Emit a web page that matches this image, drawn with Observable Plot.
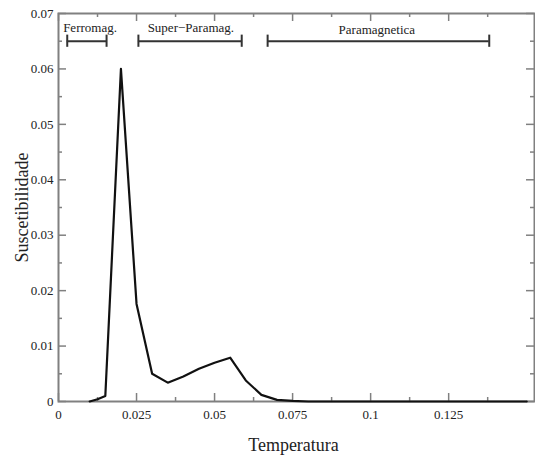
<!DOCTYPE html>
<html>
<head>
<meta charset="utf-8">
<script src="https://cdn.jsdelivr.net/npm/d3@7"></script>
<script src="https://cdn.jsdelivr.net/npm/@observablehq/plot@0.6"></script>
<style>
  html, body { margin: 0; padding: 0; background: #fff; }
  #chart svg, #chart svg text { font-family: "Liberation Serif", "DejaVu Serif", serif !important; }
</style>
</head>
<body>
<div id="chart"></div>
<script>
// Curve data
const temperatura = [0.01, 0.0125, 0.015, 0.02, 0.025, 0.03, 0.035, 0.04, 0.045, 0.05, 0.055, 0.06, 0.065, 0.07, 0.075, 0.08, 0.09, 0.1, 0.11, 0.12, 0.13, 0.14, 0.15];
const suscetibilidade = [0, 0.0004, 0.001, 0.060, 0.0176, 0.005, 0.0034, 0.0045, 0.0059, 0.0070, 0.0079, 0.0038, 0.0012, 0.0003, 0.0001, 0, 0, 0, 0, 0, 0, 0, 0];

// Phase ranges
const phaseNames = ["Ferromag.", "Super\u2212Paramag.", "Paramagnetica"];
const phaseStart = [0.0028, 0.0256, 0.0670];
const phaseEnd = [0.0154, 0.0587, 0.1380];
const phaseBarY = [0.0650, 0.0650, 0.0650];
const phaseLabelX = [0.0101, 0.0424, 0.1020];
const phaseLabelY = [0.0675, 0.0675, 0.0670];

// Ticks
const xTicks = [0, 0.025, 0.05, 0.075, 0.1, 0.125];
const xTickLabels = ["0", "0.025", "0.05", "0.075", "0.1", "0.125"];
const xMinorTicks = [0.0125, 0.0375, 0.0625, 0.0875, 0.1125, 0.1375];
const yTicks = [0, 0.01, 0.02, 0.03, 0.04, 0.05, 0.06, 0.07];
const yTickLabels = ["0", "0.01", "0.02", "0.03", "0.04", "0.05", "0.06", "0.07"];
const yMinorTicks = [0.005, 0.015, 0.025, 0.035, 0.045, 0.055, 0.065];

const xTitle = "Temperatura";
const yTitle = "Suscetibilidade";

const W = 535, H = 461, mL = 58, mR = 1, mT = 13, mB = 60;
const plotW = W - mL - mR, plotH = H - mT - mB;
const major = 8, minor = 4;
const axisColor = "#808080";
const serif = "Liberation Serif";

const curve = temperatura.map((t, i) => ({t, s: suscetibilidade[i]}));
const phases = phaseNames.map((name, i) => ({
  name, x1: phaseStart[i], x2: phaseEnd[i], y: phaseBarY[i], lx: phaseLabelX[i], ly: phaseLabelY[i]
}));
const caps = phases.flatMap(p => [{x: p.x1, y: p.y}, {x: p.x2, y: p.y}]);

const chart = Plot.plot({
  width: W,
  height: H,
  marginLeft: mL,
  marginRight: mR,
  marginTop: mT,
  marginBottom: mB,
  style: {fontFamily: serif, fontSize: "13px", color: "#222", background: "#fff"},
  x: {
    domain: [0, 0.1525],
    ticks: xTicks,
    tickFormat: d => xTickLabels[xTicks.indexOf(d)],
    tickSize: 0,
    tickPadding: 8,
    label: null
  },
  y: {
    domain: [0, 0.07],
    ticks: yTicks,
    tickFormat: d => yTickLabels[yTicks.indexOf(d)],
    tickSize: 0,
    tickPadding: 5,
    label: null
  },
  marks: [
    Plot.tickX(xTicks, {x: d => d, insetTop: plotH - major, stroke: axisColor, strokeWidth: 1.5}),
    Plot.tickX(xMinorTicks, {x: d => d, insetTop: plotH - minor, stroke: axisColor, strokeWidth: 1.5}),
    Plot.tickX(xTicks, {x: d => d, insetBottom: plotH - major, stroke: axisColor, strokeWidth: 1.5}),
    Plot.tickX(xMinorTicks, {x: d => d, insetBottom: plotH - minor, stroke: axisColor, strokeWidth: 1.5}),
    Plot.tickY(yTicks, {y: d => d, insetRight: plotW - major, stroke: axisColor, strokeWidth: 1.5}),
    Plot.tickY(yMinorTicks, {y: d => d, insetRight: plotW - minor, stroke: axisColor, strokeWidth: 1.5}),
    Plot.tickY(yTicks, {y: d => d, insetLeft: plotW - major, stroke: axisColor, strokeWidth: 1.5}),
    Plot.tickY(yMinorTicks, {y: d => d, insetLeft: plotW - minor, stroke: axisColor, strokeWidth: 1.5}),
    Plot.frame({stroke: axisColor, strokeWidth: 2}),
    Plot.ruleY(phases, {x1: "x1", x2: "x2", y: "y", stroke: "#333", strokeWidth: 2}),
    Plot.ruleX(caps, {x: "x", y1: d => d.y - 0.0011, y2: d => d.y + 0.0011, stroke: "#333", strokeWidth: 2}),
    Plot.text(phases, {x: "lx", y: "ly", text: "name", fill: "#222", fontSize: 13, fontFamily: serif, textAnchor: "middle", lineAnchor: "middle"}),
    Plot.line(curve, {x: "t", y: "s", stroke: "#111", strokeWidth: 2.2, strokeLinejoin: "round"}),
    Plot.text([xTitle], {frameAnchor: "bottom", dx: -3, dy: 44, fontSize: 18, fontFamily: serif, fill: "#222", textAnchor: "middle", lineAnchor: "middle"}),
    Plot.text([yTitle], {frameAnchor: "left", dx: -36, rotate: -90, fontSize: 18, fontFamily: serif, fill: "#222", textAnchor: "middle", lineAnchor: "middle"})
  ]
});
document.getElementById("chart").appendChild(chart);
</script>
</body>
</html>
